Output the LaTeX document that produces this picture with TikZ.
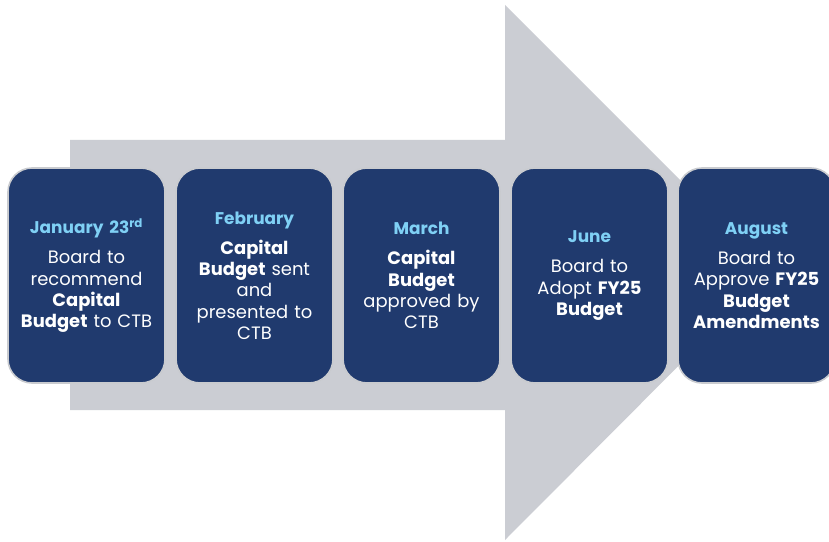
\documentclass[tikz,border=0pt]{standalone}
\usepackage{fontspec}
\setmainfont{Poppins}
\definecolor{arrowgray}{HTML}{CBCDD3}
\definecolor{boxblue}{HTML}{203A6E}
\definecolor{titleblue}{HTML}{7FD0F5}
\definecolor{boxedge}{HTML}{C9CBCF}
\newcommand{\mtitle}[1]{{\fontsize{17}{21}\selectfont\color{titleblue}\bfseries #1}\\[9bp]}
\begin{document}
\begin{tikzpicture}[x=1bp,y=-1bp,
  stage/.style={rounded corners=24bp, fill=boxblue, draw=boxedge, line width=1.6bp,
    minimum width=157bp, minimum height=215bp, text width=154bp, align=center,
    text=white, font=\fontsize{18}{21.3}\selectfont, inner sep=0bp}]
\useasboundingbox (0,0) rectangle (829,542);
\clip (0,0) rectangle (829,542);
\fill[arrowgray] (70,140) -- (505,140) -- (505,5) -- (772,272) -- (505,540) -- (505,410) -- (70,410) -- cycle;
\node[stage] (jan) at (86.5,275.5) {\mtitle{January 23\textsuperscript{rd}}Board to\\recommend\\\textbf{Capital}\\\textbf{Budget} to CTB};
\node[stage] (feb) at (254.5,275.5) {\mtitle{February}\textbf{Capital}\\\textbf{Budget} sent\\and\\presented to\\CTB};
\node[stage] (mar) at (421.5,275.5) {\mtitle{March}\textbf{Capital}\\\textbf{Budget}\\approved by\\CTB};
\node[stage] (jun) at (589.5,275.5) {\mtitle{June}Board to\\Adopt \textbf{FY25}\\\textbf{Budget}};
\node[stage] (aug) at (756.5,275.5) {\mtitle{August}Board to\\Approve \textbf{FY25}\\\textbf{Budget}\\\textbf{Amendments}};
\end{tikzpicture}
\end{document}
